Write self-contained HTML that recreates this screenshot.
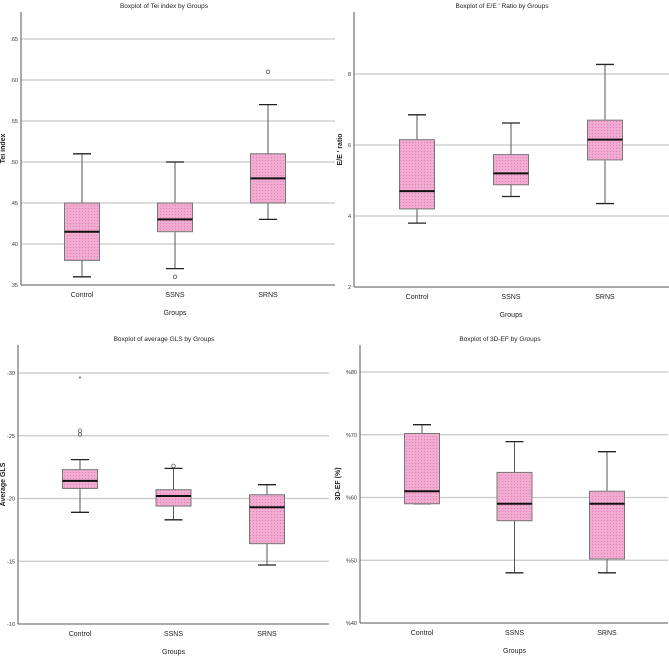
<!DOCTYPE html>
<html><head><meta charset="utf-8"><style>
html,body{margin:0;padding:0;background:#fff;}
svg{display:block;font-family:"Liberation Sans",sans-serif;}
</style></head><body>
<svg id="c" width="669" height="656" viewBox="0 0 669 656">
<defs>
<pattern id="dots" width="3" height="3" patternUnits="userSpaceOnUse">
<rect width="3" height="3" fill="#f2acd2"/><circle cx="1.5" cy="1.5" r="0.6" fill="#e07fb5"/>
</pattern>
</defs>
</svg>
<script>
const categories = ["Control","SSNS","SRNS"];
// Panel 1: Tei index [low whisker, q1, median, q3, high whisker]
const teiStats = [[0.36,0.38,0.415,0.45,0.51],[0.37,0.415,0.43,0.45,0.50],[0.43,0.45,0.48,0.51,0.57]];
const teiOutliers = [[],[0.36],[0.61]];
const teiStars = [[],[],[]];
const teiTicks = [0.35,0.40,0.45,0.50,0.55,0.60,0.65];
const teiTickLabels = [".35",".40",".45",".50",".55",".60",".65"];
// Panel 2: E/E' ratio
const eeStats = [[3.8,4.2,4.7,6.15,6.85],[4.55,4.88,5.2,5.73,6.62],[4.35,5.58,6.15,6.7,8.27]];
const eeOutliers = [[],[],[]];
const eeStars = [[],[],[]];
const eeTicks = [2,4,6,8];
const eeTickLabels = ["2","4","6","8"];
// Panel 3: average GLS
const glsStats = [[-18.9,-20.8,-21.4,-22.3,-23.1],[-18.3,-19.4,-20.2,-20.7,-22.4],[-14.7,-16.4,-19.3,-20.3,-21.1]];
const glsOutliers = [[-25.1,-25.4],[-22.6],[]];
const glsStars = [[-29.6],[],[]];
const glsTicks = [-30,-25,-20,-15,-10];
const glsTickLabels = ["-30","-25","-20","-15","-10"];
// Panel 4: 3D-EF
const efStats = [[59,59,61,70.2,71.6],[48,56.3,59,64,68.9],[48,50.2,59,61,67.3]];
const efOutliers = [[],[],[]];
const efStars = [[],[],[]];
const efTicks = [40,50,60,70,80];
const efTickLabels = ["%40","%50","%60","%70","%80"];

const NS="http://www.w3.org/2000/svg";
const svg=document.getElementById('c');
function mk(tag,attrs,parent){const e=document.createElementNS(NS,tag);for(const k in attrs)e.setAttribute(k,attrs[k]);(parent||svg).appendChild(e);return e;}

function panel(p){
  const g=mk('g',{});
  
  
  const y=v=>p.y0+(v-p.v0)*(p.y1-p.y0)/(p.v1-p.v0);
  p.ticks.forEach((t,i)=>{
    const yy=y(t);
    if(Math.abs(yy-p.bottom)>1){
      const l=mk('line',{x1:p.ax,x2:p.right,y1:yy,y2:yy,stroke:'#c8c8c8','stroke-width':1.2},g);
      
      
    }
    const tx=mk('text',{x:p.ax-3,y:yy+2,'text-anchor':'end','font-size':5.5,fill:'#333'},g);
    tx.textContent=p.labels[i];
    
    
  });
  const axl=mk('line',{x1:p.ax,x2:p.ax,y1:p.top,y2:p.bottom,stroke:'#555','stroke-width':1},g);
  
  
  const axb=mk('line',{x1:p.ax,x2:p.right,y1:p.bottom,y2:p.bottom,stroke:'#555','stroke-width':1},g);
  
  
  const x=i=>p.cx0+i*p.step;
  categories.forEach((c,i)=>{
    const s=p.stats[i], cx=x(i), hw=17.5;
    const w1=mk('line',{x1:cx,x2:cx,y1:y(s[0]),y2:y(s[4]),stroke:'#555','stroke-width':1},g);
    
    
    [s[0],s[4]].forEach(v=>{
      const cap=mk('line',{x1:cx-9,x2:cx+9,y1:y(v),y2:y(v),stroke:'#222','stroke-width':1.3},g);
      
      
    });
    const ya=y(s[1]), yb=y(s[3]);
    const b=mk('rect',{x:cx-hw,y:Math.min(ya,yb),width:hw*2,height:Math.abs(yb-ya),fill:'url(#dots)',stroke:'#777','stroke-width':1},g);
    
    
    const m=mk('line',{x1:cx-hw,x2:cx+hw,y1:y(s[2]),y2:y(s[2]),stroke:'#111','stroke-width':2},g);
    
    
    p.out[i].forEach(v=>{
      const o=mk('circle',{cx:cx,cy:y(v),r:1.8,fill:'none',stroke:'#444','stroke-width':0.7},g);
      
      
    });
    p.stars[i].forEach(v=>{
      const st=mk('text',{x:cx,y:y(v)+3,'text-anchor':'middle','font-size':7,fill:'#333'},g);
      st.textContent='*';
      
      
    });
    const cl=mk('text',{x:cx,y:p.bottom+12,'text-anchor':'middle','font-size':7,fill:'#222'},g);
    cl.textContent=c;
    
    
  });
  const ti=mk('text',{x:p.titleX,y:p.titleY,'text-anchor':'middle','font-size':6.5,fill:'#222'},g);
  ti.textContent=p.title;
  
  
  const xt=mk('text',{x:p.cx0+p.step,y:p.bottom+30,'text-anchor':'middle','font-size':7,fill:'#222'},g);
  xt.textContent='Groups';
  
  
  const yc=(p.top+p.bottom)/2;
  const yt=mk('text',{x:p.ylx,y:yc,'text-anchor':'middle','font-size':7,'font-weight':'bold',fill:'#222',transform:`rotate(-90 ${p.ylx} ${yc})`},g);
  yt.textContent=p.ylabel;
  
  
}

panel({name:'tei-index-panel',stats:teiStats,out:teiOutliers,stars:teiStars,ticks:teiTicks,labels:teiTickLabels,
  v0:0.35,v1:0.65,y0:285,y1:39,top:12,bottom:285,ax:21,right:335,cx0:82,step:93,
  title:'Boxplot of Tei index  by Groups',titleX:164,titleY:8,ylabel:'Tei index',ylx:5});
panel({name:'ee-ratio-panel',stats:eeStats,out:eeOutliers,stars:eeStars,ticks:eeTicks,labels:eeTickLabels,
  v0:2,v1:8,y0:287,y1:74,top:12,bottom:287,ax:354,right:669,cx0:417,step:94,
  title:"Boxplot of  E/E ' Ratio by Groups",titleX:502,titleY:8,ylabel:"E/E ' ratio",ylx:342});
panel({name:'average-gls-panel',stats:glsStats,out:glsOutliers,stars:glsStars,ticks:glsTicks,labels:glsTickLabels,
  v0:-30,v1:-10,y0:373,y1:624,top:345,bottom:624,ax:18,right:329,cx0:80,step:93.5,
  title:'Boxplot of average GLS by Groups',titleX:164,titleY:341,ylabel:'Average GLS',ylx:5});
panel({name:'3d-ef-panel',stats:efStats,out:efOutliers,stars:efStars,ticks:efTicks,labels:efTickLabels,
  v0:40,v1:80,y0:623,y1:372,top:345,bottom:623,ax:360,right:668,cx0:422,step:92.5,
  title:'Boxplot of 3D-EF by Groups',titleX:500,titleY:341,ylabel:'3D-EF (%)',ylx:340});
</script>
</body></html>
